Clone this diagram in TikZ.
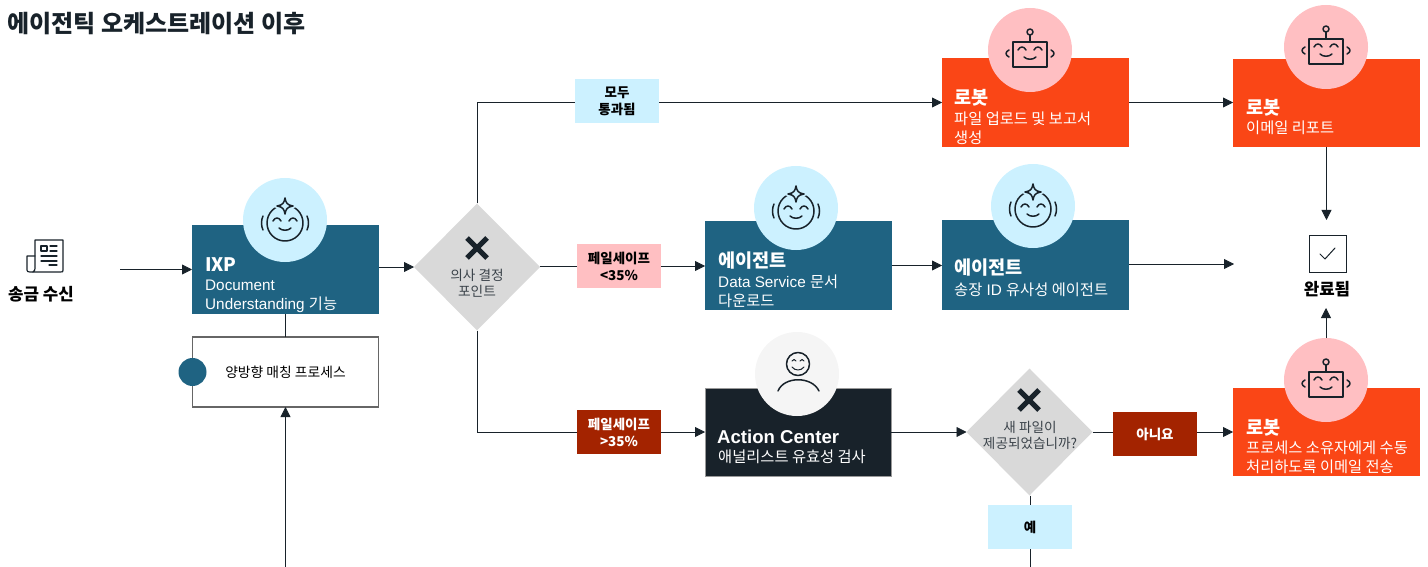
\documentclass[tikz,border=0pt]{standalone}
\usepackage{fontspec}
\setmainfont{Liberation Sans}
\newfontfamily\kr{Noto Sans CJK KR}
\usetikzlibrary{arrows.meta,shapes.geometric}
\definecolor{teal}{HTML}{1F6382}
\definecolor{flame}{HTML}{FA4616}
\definecolor{rust}{HTML}{A32300}
\definecolor{rose}{HTML}{FFBFC2}
\definecolor{sky}{HTML}{CCF1FF}
\definecolor{ink}{HTML}{18222A}
\definecolor{ash}{HTML}{D9D9D9}
\tikzset{
	flow/.style={draw=ink, line width=0.8pt, -{Triangle[length=10pt,width=10pt]}},
	wire/.style={draw=ink, line width=0.8pt},
	icon/.style={draw=ink, line width=1.5pt, line cap=round, line join=round},
	card/.style={minimum width=187pt, minimum height=89pt, inner sep=0pt, outer sep=0pt},
	badge/.style={circle, minimum size=84pt, inner sep=0pt, outer sep=0pt},
	gate/.style={diamond, fill=ash, minimum width=126pt, minimum height=127pt, inner sep=0pt, outer sep=0pt},
	tag/.style={minimum width=84pt, minimum height=44pt, inner sep=0pt, outer sep=0pt, align=center, font=\fontsize{13.5}{17}\selectfont\kr\bfseries},
	cardhead/.style={anchor=west, inner sep=0pt, text=white, font=\fontsize{18.6}{20}\selectfont\kr\bfseries},
	cardtext/.style={anchor=west, inner sep=0pt, text=white, align=left, font=\fontsize{15.3}{18.6}\selectfont},
	cardtextkr/.style={cardtext, font=\fontsize{15.3}{18.6}\selectfont\kr},
	gatetext/.style={inner sep=0pt, align=center, text=ink!85, font=\fontsize{13.7}{16.5}\selectfont\kr},
}
% icons
\def\eyesmile(#1,#2){
	\draw[icon] (#1-12,#2) .. controls (#1-10,#2-4) and (#1-6,#2-4) .. (#1-4,#2);
	\draw[icon] (#1+4,#2) .. controls (#1+6,#2-4) and (#1+10,#2-4) .. (#1+12,#2);
	\draw[icon] (#1-6,#2+7) .. controls (#1-3,#2+10) and (#1+3,#2+10) .. (#1+6,#2+7);
}
\def\agentstar(#1,#2){
	(#1,#2-22) .. controls (#1+1,#2-17) and (#1+2,#2-15) .. (#1+8,#2-14)
		.. controls (#1+2,#2-13) and (#1+1,#2-11) .. (#1,#2-6)
		.. controls (#1-1,#2-11) and (#1-2,#2-13) .. (#1-8,#2-14)
		.. controls (#1-2,#2-15) and (#1-1,#2-17) .. (#1,#2-22) -- cycle
}
\def\agentface(#1,#2){
	\draw[icon] (#1,#2+3) circle (18);
	\eyesmile(#1,#2+1)
	\draw[icon] (#1-22,#2-4) .. controls (#1-24,#2) and (#1-24,#2+6) .. (#1-22,#2+10);
	\draw[icon] (#1+22,#2-4) .. controls (#1+24,#2) and (#1+24,#2+6) .. (#1+22,#2+10);
	\draw[draw=sky, line width=4pt, fill=sky] \agentstar(#1,#2);
	\draw[icon, fill=sky] \agentstar(#1,#2);
}
\def\robotface(#1,#2){
	\draw[icon] (#1-17,#2-8) rectangle (#1+17,#2+17);
	\draw[icon] (#1,#2-8) -- (#1,#2-15);
	\draw[icon] (#1,#2-18) circle (3);
	\eyesmile(#1,#2)
	\draw[icon] (#1-21,#2) .. controls (#1-25,#2+2) and (#1-25,#2+5) .. (#1-21,#2+7);
	\draw[icon] (#1+21,#2) .. controls (#1+25,#2+2) and (#1+25,#2+5) .. (#1+21,#2+7);
}
\def\gatecross(#1,#2){
	\draw[draw=ink, line width=5pt] (#1-10,#2-10) -- (#1+10,#2+10);
	\draw[draw=ink, line width=5pt] (#1-10,#2+10) -- (#1+10,#2-10);
}

\begin{document}
\begin{tikzpicture}[x=1pt, y=-1pt]
	%%%%% START %%%%%
	\useasboundingbox (0,0) rectangle (1428,567);

	\node[anchor=west, inner sep=0pt, text=ink, font=\fontsize{24}{26}\selectfont\kr\bfseries] (title) at (7,24) {에이전틱 오케스트레이션 이후};

	% start
	\draw[icon, line width=1.2pt] (35,240) -- (63,240) -- (63,270) .. controls (63,272) .. (60,272) -- (33,272) .. controls (35,270) .. (35,268) -- cycle;
	\draw[icon, line width=1.2pt] (35,256) -- (27,256) -- (27,268) .. controls (27,272) .. (33,272);
	\draw[icon, line width=1.2pt] (41,246) rectangle (47,251);
	\draw[icon, line width=1.2pt] (50,246) -- (57,246) (50,251) -- (57,251) (41,256) -- (57,256) (41,261) -- (57,261) (49,265) -- (57,265);
	\node[inner sep=0pt, font=\fontsize{16.8}{18}\selectfont\kr\bfseries] (recvText) at (41,294) {송금 수신};
	\coordinate (recvEnd) at (120,269.5);

	% boxes
	\node[card, fill=teal] (ixp) at (285.5,269.5) {};
	\node[badge, fill=sky] (ixpBadge) at (285,220) {};
	\agentface(285,220)
	\node[cardhead] (ixpHead) at (205,265) {IXP};
	\node[cardtext] (ixpText) at (205,296.5) {Document\\Understanding {\kr 기능}};

	\node[draw=black!60, line width=1.2pt, minimum width=186pt, minimum height=70pt, inner sep=0pt, outer sep=0pt, font=\fontsize{13.8}{15}\selectfont\kr] (proc) at (285.5,372) {양방향 매칭 프로세스};
	\node[circle, fill=teal, minimum size=28pt, inner sep=0pt] (procDot) at (proc.west) {};
	\coordinate (procEnd) at (285.5,567);

	\node[gate] (decide) at (477,267) {};
	\gatecross(477,248)
	\node[gatetext] (decideText) at (477,283) {의사 결정\\포인트};

	\node[tag, fill=sky] (allPass) at (617,101) {모두\\통과됨};
	\node[tag, fill=rose] (failLow) at (619,266) {페일세이프\\<35\%};
	\node[tag, fill=rust, text=white] (failHigh) at (619,432) {페일세이프\\>35\%};

	\node[card, fill=teal] (agentData) at (798.5,265.5) {};
	\node[badge, fill=sky] (agentDataBadge) at (796,208) {};
	\agentface(796,208)
	\node[cardhead] (agentDataHead) at (718,261) {에이전트};
	\node[cardtext] (agentDataText) at (718,291.5) {Data Service {\kr 문서}\\{\kr 다운로드}};

	\node[card, fill=teal, minimum height=90pt] (agentInv) at (1035.5,265) {};
	\node[badge, fill=sky] (agentInvBadge) at (1033,206) {};
	\agentface(1033,206)
	\node[cardhead] (agentInvHead) at (954,268) {에이전트};
	\node[cardtext] (agentInvText) at (954,289.5) {{\kr 송장} ID {\kr 유사성 에이전트}};

	\node[card, fill=flame] (robotUp) at (1035.5,102.5) {};
	\node[badge, fill=rose] (robotUpBadge) at (1030,50) {};
	\robotface(1030,50)
	\node[cardhead] (robotUpHead) at (954,98) {로봇};
	\node[cardtextkr] (robotUpText) at (954,128) {파일 업로드 및 보고서\\생성};

	\node[card, fill=flame, minimum height=88pt] (robotMail) at (1326.5,103) {};
	\node[badge, fill=rose] (robotMailBadge) at (1326,47) {};
	\robotface(1326,47)
	\node[cardhead] (robotMailHead) at (1246,108) {로봇};
	\node[cardtextkr] (robotMailText) at (1246,128) {이메일 리포트};

	\node[draw=ink, line width=1pt, minimum size=37pt, inner sep=0pt, outer sep=0pt] (done) at (1327.5,253.5) {};
	\draw[icon, line width=1pt] (1320,254) -- (1325,259) -- (1335,248);
	\node[inner sep=0pt, font=\fontsize{16.8}{18}\selectfont\kr\bfseries] (doneText) at (1327,289) {완료됨};
	\coordinate (doneIn) at (1326.5,220);
	\coordinate (doneSide) at (1234,264);
	\coordinate (doneUp) at (1326,308);

	\node[card, fill=ink, draw=black!40, line width=1pt, minimum width=186pt, minimum height=88pt] (action) at (798,432) {};
	\node[badge, fill=black!4] (actionBadge) at (797,374) {};
	\draw[icon] (798,364) circle (11.5);
	\draw[icon, line width=1pt] (792,361) .. controls (793,359) and (795,359) .. (796,361);
	\draw[icon, line width=1pt] (800,361) .. controls (801,359) and (803,359) .. (804,361);
	\draw[icon, line width=1pt] (792,367) .. controls (795,371) and (801,371) .. (804,367);
	\draw[icon] (778,391) .. controls (784,376) and (812,376) .. (819,391);
	\node[cardhead, font=\fontsize{18.6}{20}\selectfont\bfseries] (actionHead) at (717,437) {Action Center};
	\node[cardtextkr] (actionText) at (718,456.5) {애널리스트 유효성 검사};

	\node[gate] (newFile) at (1029.5,432) {};
	\gatecross(1029,400)
	\node[gatetext, font=\fontsize{13.6}{16}\selectfont\kr] (newFileText) at (1030,435) {새 파일이\\제공되었습니까?};

	\node[tag, fill=rust, text=white] (answerNo) at (1155,434) {아니요};
	\node[tag, fill=sky] (answerYes) at (1030,527) {예};
	\coordinate (yesEnd) at (1030,567);

	\node[card, fill=flame, minimum height=88pt] (robotOwner) at (1326.5,432) {};
	\node[badge, fill=rose] (robotOwnerBadge) at (1326,380) {};
	\robotface(1326,380)
	\node[cardhead] (robotOwnerHead) at (1246,428) {로봇};
	\node[cardtextkr] (robotOwnerText) at (1246,457.5) {프로세스 소유자에게 수동\\처리하도록 이메일 전송};

	% connectors
	\draw[flow] (recvEnd) -- (ixp.west);
	\draw[wire] (ixp.south) -- (proc.north);
	\draw[flow] (procEnd) -- (proc.south);
	\draw[flow] (ixp.east |- decide.west) -- (decide.west);
	\draw[wire] (decide.north) |- (allPass.west |- robotUp.west);
	\draw[flow] (allPass.east |- robotUp.west) -- (robotUp.west);
	\draw[wire] (decide.east |- failLow.west) -- (failLow.west);
	\draw[flow] (failLow.east) -- (failLow.east -| agentData.west);
	\draw[wire] (decide.south) |- (failHigh.west);
	\draw[flow] (failHigh.east) -- (action.west);
	\draw[flow] (agentData.east) -- (agentData.east -| agentInv.west);
	\draw[flow] (agentInv.east |- doneSide) -- (doneSide);
	\draw[flow] (robotUp.east) -- (robotUp.east -| robotMail.west);
	\draw[flow] (robotMail.south) -- (doneIn);
	\draw[flow] (robotOwnerBadge.north) -- (doneUp);
	\draw[flow] (action.east) -- (newFile.west);
	\draw[wire] (newFile.east) -- (newFile.east -| answerNo.west);
	\draw[flow] (answerNo.east |- robotOwner.west) -- (robotOwner.west);
	\draw[wire] (newFile.south -| answerYes.north) -- (answerYes.north);
	\draw[wire] (answerYes.south) -- (yesEnd);
	%%%%% END %%%%%
\end{tikzpicture}
\end{document}
